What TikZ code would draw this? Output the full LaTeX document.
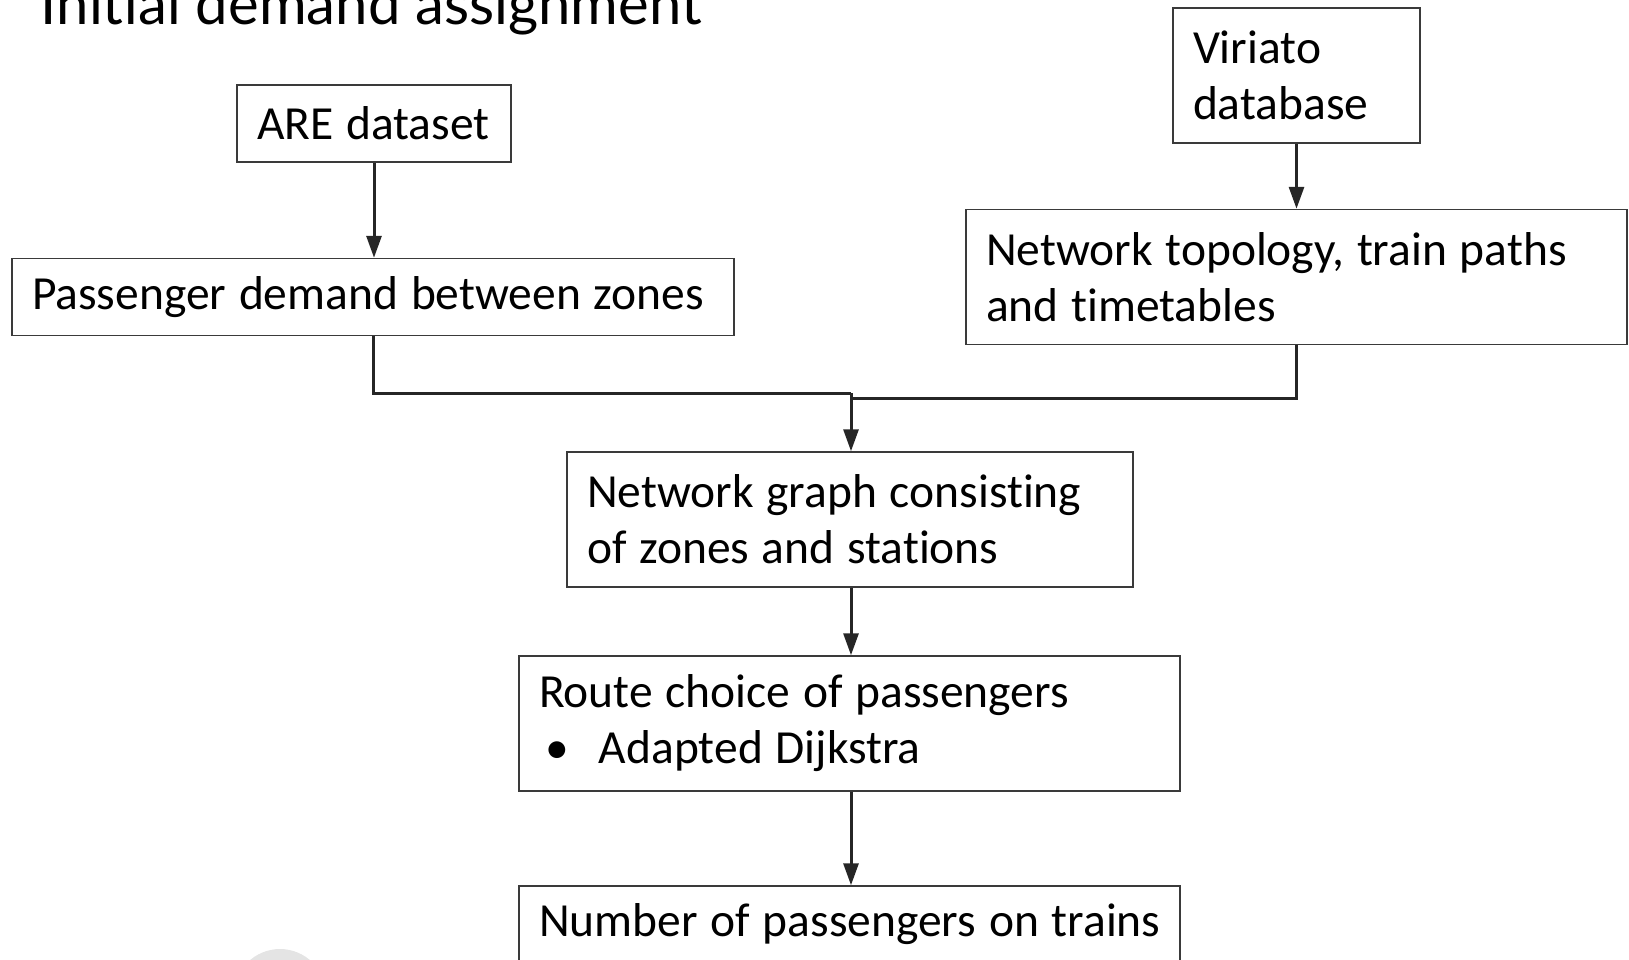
\documentclass[tikz,border=0pt]{standalone}
\usepackage{fontspec}
\setmainfont[Ligatures=NoCommon]{Carlito}
\newfontfamily\titlefont{Lato}
\usepackage{tikz}
\usepackage{xcolor}
\usetikzlibrary{arrows.meta}
\definecolor{FontColor}{HTML}{000000}
\definecolor{LineColor}{HTML}{262626}
\definecolor{BoxColor}{HTML}{3a3a3a}
\definecolor{LogoGray}{HTML}{e4e4e4}
\newcommand\nodetitle{Initial demand assignment}
\newcommand\nodeare{\mbox{ARE dataset}}
\newcommand\nodepd{\mbox{Passenger demand between zones}}
\newcommand\nodevir{Viriato\\database}
\newcommand\nodetopo{\mbox{Network topology, train paths}\\and timetables}
\newcommand\nodegraph{\mbox{Network graph consisting}\\of zones and stations}
\newcommand\noderoute{\mbox{Route choice of passengers}\\\makebox[60pt][l]{\hspace{6pt}\textbullet}Adapted Dijkstra}
\newcommand\nodenum{\mbox{Number of passengers on trains}}
\newcommand\tightspace{\spaceskip=12.8pt\relax}
\tikzstyle{boxstyle} = [rectangle, draw=BoxColor, line width=1.5pt, align=left, inner xsep=20pt, inner ysep=0pt, text=FontColor, font=\fontsize{47.5}{56}\selectfont, execute at begin node=\tightspace]
\tikzstyle{onebox} = [boxstyle, minimum height=77pt]
\tikzstyle{twobox} = [boxstyle, minimum height=135pt]
\tikzset{>={Triangle[length=22pt,width=15pt]}, every picture/.style={line width=3pt, draw=LineColor}}

\begin{document}
\begin{tikzpicture}[x=1pt, y=-1pt]
\useasboundingbox (0,0) rectangle (1629,959);
\clip (0,0) rectangle (1629,959);
\fill[LogoGray] (280,995) circle (46);
\node[anchor=base west, font=\titlefont\fontsize{58}{62}\selectfont] (title) at (36,24) {\nodetitle};
\node[onebox, text width=234pt] (are) at (374,123.5) {\nodeare};
\node[onebox, text width=682pt] (pd) at (373,297) {\nodepd};
\node[twobox, text width=207pt] (vir) at (1296.5,75.5) {\nodevir};
\node[twobox, text width=621pt] (topo) at (1296.5,277) {\nodetopo};
\node[twobox, text width=526pt] (graph) at (850,519.5) {\nodegraph};
\node[twobox, text width=621pt] (route) at (849.5,723.5) {\noderoute};
\node[onebox, text width=621pt] (num) at (849.5,924.5) {\nodenum};
\coordinate (jl) at (851,393);
\coordinate (jr) at (851,398);
\draw [->] (are) -- (are |- pd.north);
\draw [->] (vir) -- (vir |- topo.north);
\draw (pd.south) |- (jl);
\draw (topo.south) |- (jr);
\draw [->] (jl) -- (jl |- graph.north);
\draw [->] (graph.south -| jl) -- (jl |- route.north);
\draw [->] (route.south -| jl) -- (jl |- num.north);
\end{tikzpicture}
\end{document}
